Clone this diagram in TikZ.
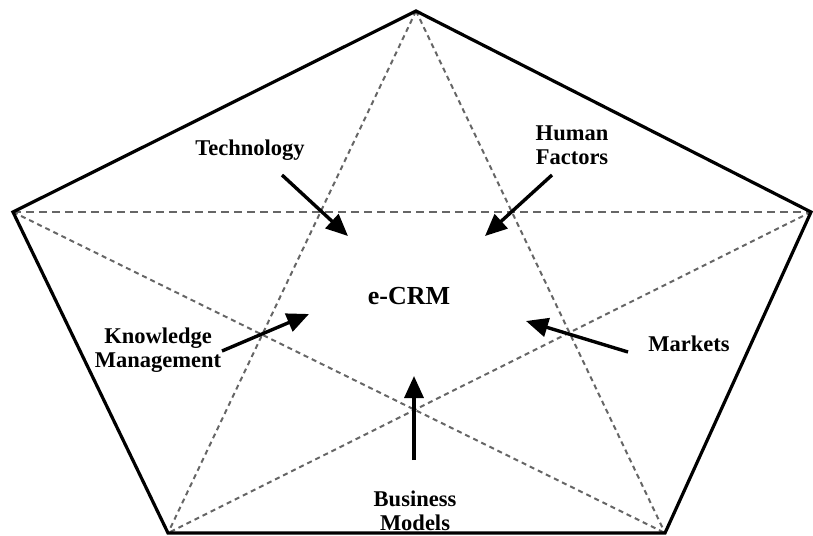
\documentclass[tikz,border=0pt]{standalone}
\usepackage{fontspec}
\setmainfont{Liberation Serif}
\usetikzlibrary{arrows.meta}
\begin{document}
\begin{tikzpicture}[x=1pt,y=-1pt,
  outline/.style={line width=3.2pt,line join=miter,black},
  longdash/.style={line width=2.2pt,draw=black!60,dash pattern=on 8pt off 5pt},
  shortdash/.style={line width=2pt,draw=black!60,dash pattern=on 5pt off 4pt},
  influence/.style={line width=3.4pt,-{Triangle[length=22pt,width=19pt]}},
  lbl/.style={font=\fontsize{22.5}{24}\selectfont\bfseries,align=center,inner sep=0pt},
  title/.style={font=\fontsize{26}{28}\selectfont\bfseries,inner sep=0pt}]
\useasboundingbox (0,0) rectangle (813,535);
\coordinate (T) at (416,11);
\coordinate (L) at (13,212);
\coordinate (R) at (811,212);
\coordinate (BL) at (168,533);
\coordinate (BR) at (665,533);
% star
\draw[longdash] (L) -- (R);
\draw[shortdash] (T) -- (BL);
\draw[shortdash] (T) -- (BR);
\draw[shortdash] (L) -- (BR);
\draw[shortdash] (R) -- (BL);
% pentagon
\draw[outline] (T) -- (R) -- (BR) -- (BL) -- (L) -- cycle;
% labels
\node[title] (crm) at (409,296) {e-CRM};
\node[lbl] (tech) at (250,150) {Technology};
\node[lbl] (hf) at (572,145) {Human\\Factors};
\node[lbl] (km) at (158,350) {Knowledge\\Management};
\node[lbl] (mk) at (689,344) {Markets};
\node[lbl] (bm) at (415,511) {Business\\Models};
% arrow end points
\coordinate (tS) at (282,175); \coordinate (tE) at (348,236);
\coordinate (hS) at (552,175); \coordinate (hE) at (485,236);
\coordinate (kS) at (222,351); \coordinate (kE) at (309,314);
\coordinate (mS) at (628,352); \coordinate (mE) at (526,321);
\coordinate (bS) at (414,460); \coordinate (bE) at (414,376);
\draw[influence] (tS) -- (tE);
\draw[influence] (hS) -- (hE);
\draw[influence] (kS) -- (kE);
\draw[influence] (mS) -- (mE);
\draw[influence] (bS) -- (bE);
\end{tikzpicture}
\end{document}
